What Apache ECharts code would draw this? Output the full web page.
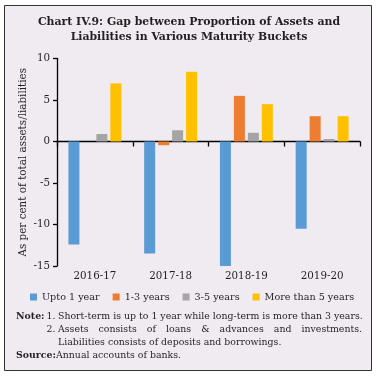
<!DOCTYPE html>
<html><head><meta charset="utf-8">
<script src="https://cdn.jsdelivr.net/npm/echarts@6/dist/echarts.min.js"></script>
<style>html,body{margin:0;padding:0;background:#fff}#c{width:380px;height:380px}</style>
</head><body><div id="c"></div>
<script>
const categories = ['2016-17', '2017-18', '2018-19', '2019-20'];
const seriesNames = ['Upto 1 year', '1-3 years', '3-5 years', 'More than 5 years'];
const upto1Year = [-12.4, -13.5, -15.0, -10.5];
const oneToThree = [0, -0.45, 5.5, 3.05];
const threeToFive = [0.9, 1.35, 1.05, 0.3];
const moreThanFive = [7.0, 8.4, 4.5, 3.05];
const yMin = -15, yMax = 10, yInterval = 5;
const colors = ['#5B9BD5', '#ED7D31', '#A5A5A5', '#FFC000'];

const FONT = '"DejaVu Serif", "Liberation Serif", serif';
const TXT = '#231F20';
const NOTE_FONT = '9.4px ' + FONT;
const NOTE_BOLD = 'bold 9.4px ' + FONT;

const chart = echarts.init(document.getElementById('c'), null, {renderer: 'canvas'});

function t(x, y, text, opt) {
  return {
    type: 'text', x: x, y: y, z: 10,
    style: Object.assign({text: text, fill: TXT, font: NOTE_FONT, textVerticalAlign: 'middle'}, opt || {})
  };
}

// justify a line of words between two x positions
const mctx = document.createElement('canvas').getContext('2d');
function justified(words, x0, x1, y, font) {
  mctx.font = font;
  const widths = words.map(w => mctx.measureText(w).width);
  const total = widths.reduce((a, b) => a + b, 0);
  const gap = (x1 - x0 - total) / (words.length - 1);
  const out = [];
  let x = x0;
  words.forEach((w, i) => { out.push(t(x, y, w)); x += widths[i] + gap; });
  return out;
}

const graphics = [
  {type: 'rect', z: -10, shape: {x: 4.5, y: 5.5, width: 367, height: 365},
   style: {fill: '#EFEBF1', stroke: '#333', lineWidth: 1}},
  t(189, 22, 'Chart IV.9: Gap between Proportion of Assets and', {font: 'bold 10.9px ' + FONT, textAlign: 'center'}),
  t(189, 37, 'Liabilities in Various Maturity Buckets', {font: 'bold 10.9px ' + FONT, textAlign: 'center'}),
  t(16, 317, 'Note:', {font: NOTE_BOLD}),
  t(46.5, 317, '1.'),
  t(58, 317, 'Short-term is up to 1 year while long-term is more than 3 years.'),
  t(46.5, 330, '2.'),
  t(58, 343, 'Liabilities consists of deposits and borrowings.'),
  t(16, 356, 'Source:', {font: NOTE_BOLD}),
  t(56, 356, 'Annual accounts of banks.')
].concat(justified(['Assets', 'consists', 'of', 'loans', '&', 'advances', 'and', 'investments.'], 58, 362, 330, NOTE_FONT));

const dataSets = [upto1Year, oneToThree, threeToFive, moreThanFive];

chart.setOption({
  backgroundColor: 'transparent',
  animation: false,
  color: colors,
  textStyle: {fontFamily: FONT, color: TXT},
  grid: {left: 57, right: 20, top: 58.5, bottom: 114, containLabel: false},
  legend: {
    data: seriesNames, left: 25, top: 287, icon: 'rect', itemWidth: 7, itemHeight: 7, itemGap: 13,
    textStyle: {fontFamily: FONT, fontSize: 9.65, color: TXT}
  },
  xAxis: [
    {type: 'category', data: categories, position: 'bottom',
     axisLine: {show: false, onZero: false}, axisTick: {show: false},
     axisLabel: {fontFamily: FONT, fontSize: 10.3, color: TXT, margin: 5}},
    {type: 'category', data: categories, position: 'bottom',
     axisLine: {show: true, onZero: true, lineStyle: {color: '#000', width: 1.3}},
     axisTick: {show: true, length: 5, lineStyle: {color: '#000', width: 1.3}},
     axisLabel: {show: false}}
  ],
  yAxis: {
    type: 'value', min: yMin, max: yMax, interval: yInterval,
    name: 'As per cent of total assets/liabilities', nameLocation: 'middle', nameGap: 29,
    nameMoveOverlap: false,
    nameTextStyle: {fontFamily: FONT, fontSize: 10.4, color: TXT},
    axisLine: {show: true, lineStyle: {color: '#000', width: 1.3}},
    axisTick: {show: true, length: 4, lineStyle: {color: '#000', width: 1.3}},
    axisLabel: {fontFamily: FONT, fontSize: 10.3, color: TXT, margin: 7},
    splitLine: {show: false}
  },
  series: seriesNames.map((n, i) => ({
    name: n, type: 'bar', xAxisIndex: 0, data: dataSets[i], barWidth: 11, barGap: '27%'
  })),
  graphic: graphics
});
</script></body></html>
